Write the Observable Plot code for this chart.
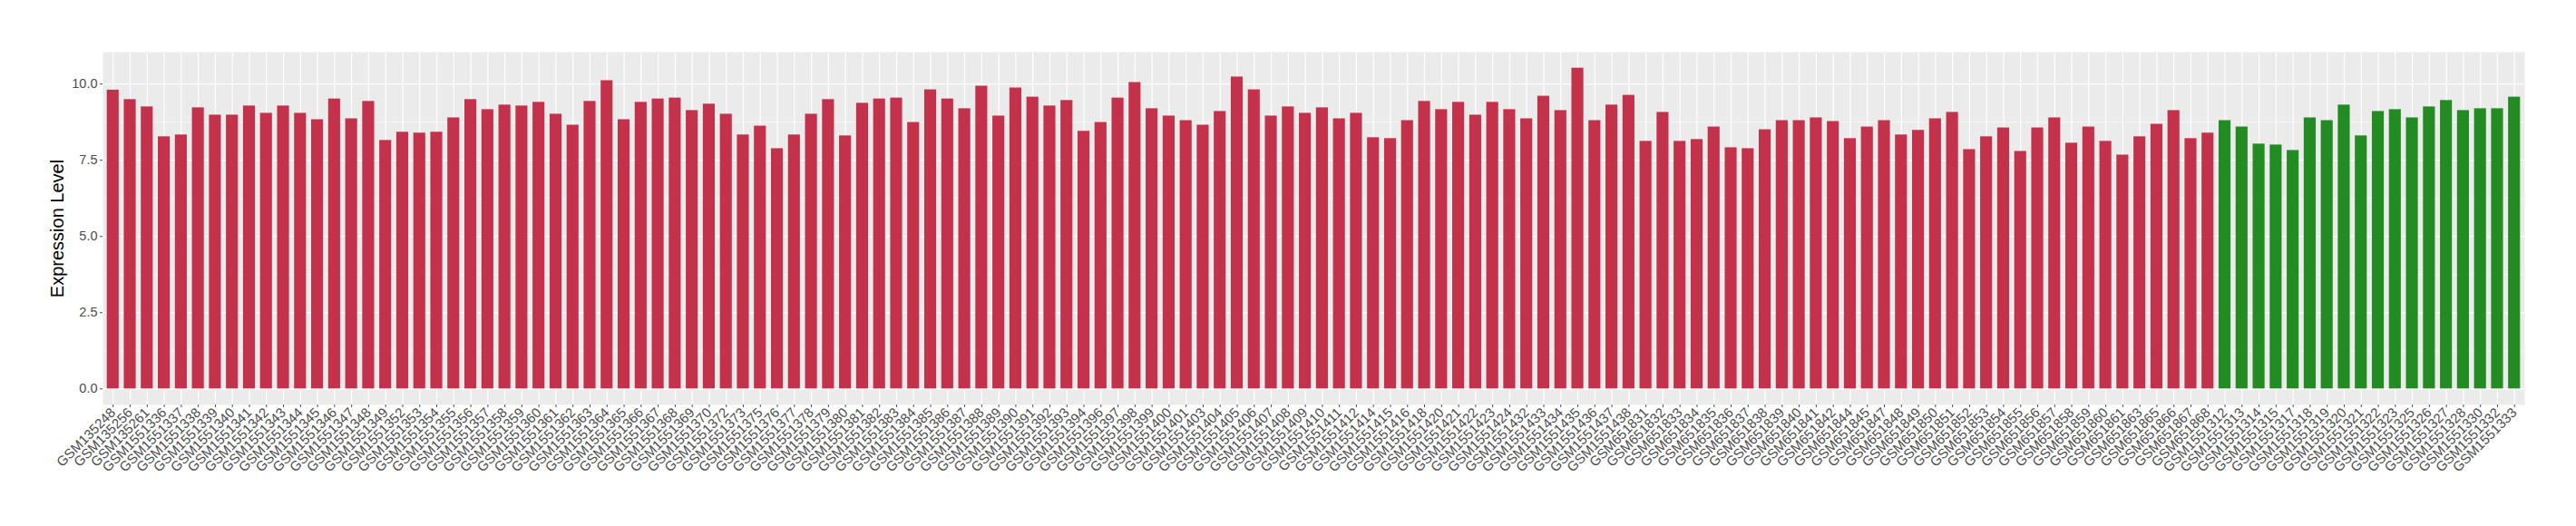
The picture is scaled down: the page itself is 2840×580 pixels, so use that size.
<!DOCTYPE html>
<html><head><meta charset="utf-8">
<script src="https://cdn.jsdelivr.net/npm/d3@7"></script>
<script src="https://cdn.jsdelivr.net/npm/@observablehq/plot@0.6"></script>
<style>body{margin:0;background:#fff;} #chart svg{display:block;}</style>
</head><body><div id="chart"></div>
<script>
const tumorSamples = ["GSM135248","GSM135256","GSM135261","GSM1551336","GSM1551337","GSM1551338","GSM1551339","GSM1551340","GSM1551341","GSM1551342","GSM1551343","GSM1551344","GSM1551345","GSM1551346","GSM1551347","GSM1551348","GSM1551349","GSM1551352","GSM1551353","GSM1551354","GSM1551355","GSM1551356","GSM1551357","GSM1551358","GSM1551359","GSM1551360","GSM1551361","GSM1551362","GSM1551363","GSM1551364","GSM1551365","GSM1551366","GSM1551367","GSM1551368","GSM1551369","GSM1551370","GSM1551372","GSM1551373","GSM1551375","GSM1551376","GSM1551377","GSM1551378","GSM1551379","GSM1551380","GSM1551381","GSM1551382","GSM1551383","GSM1551384","GSM1551385","GSM1551386","GSM1551387","GSM1551388","GSM1551389","GSM1551390","GSM1551391","GSM1551392","GSM1551393","GSM1551394","GSM1551396","GSM1551397","GSM1551398","GSM1551399","GSM1551400","GSM1551401","GSM1551403","GSM1551404","GSM1551405","GSM1551406","GSM1551407","GSM1551408","GSM1551409","GSM1551410","GSM1551411","GSM1551412","GSM1551414","GSM1551415","GSM1551416","GSM1551418","GSM1551420","GSM1551421","GSM1551422","GSM1551423","GSM1551424","GSM1551432","GSM1551433","GSM1551434","GSM1551435","GSM1551436","GSM1551437","GSM1551438","GSM651831","GSM651832","GSM651833","GSM651834","GSM651835","GSM651836","GSM651837","GSM651838","GSM651839","GSM651840","GSM651841","GSM651842","GSM651844","GSM651845","GSM651847","GSM651848","GSM651849","GSM651850","GSM651851","GSM651852","GSM651853","GSM651854","GSM651855","GSM651856","GSM651857","GSM651858","GSM651859","GSM651860","GSM651861","GSM651863","GSM651865","GSM651866","GSM651867","GSM651868"];
const tumorValues = [
9.80, 9.49, 9.25, 8.27, 8.33, 9.22, 8.98, 8.98, 9.28, 9.04,
9.28, 9.04, 8.83, 9.51, 8.86, 9.43, 8.15, 8.42, 8.39, 8.42,
8.89, 9.49, 9.16, 9.31, 9.28, 9.40, 9.01, 8.65, 9.43, 10.11,
8.83, 9.40, 9.51, 9.54, 9.13, 9.34, 9.01, 8.33, 8.62, 7.88,
8.33, 9.01, 9.49, 8.30, 9.37, 9.51, 9.54, 8.74, 9.81, 9.51,
9.19, 9.93, 8.95, 9.87, 9.57, 9.28, 9.46, 8.45, 8.74, 9.54,
10.05, 9.19, 8.95, 8.80, 8.65, 9.10, 10.23, 9.81, 8.95, 9.25,
9.04, 9.22, 8.86, 9.04, 8.24, 8.21, 8.80, 9.43, 9.16, 9.40,
8.98, 9.40, 9.16, 8.86, 9.60, 9.13, 10.52, 8.80, 9.31, 9.63,
8.12, 9.07, 8.12, 8.18, 8.59, 7.91, 7.88, 8.50, 8.80, 8.80,
8.89, 8.77, 8.21, 8.59, 8.80, 8.33, 8.48, 8.86, 9.07, 7.85,
8.27, 8.56, 7.79, 8.56, 8.89, 8.06, 8.59, 8.12, 7.67, 8.27,
8.68, 9.13, 8.21, 8.39];
const normalSamples = ["GSM1551312","GSM1551313","GSM1551314","GSM1551315","GSM1551317","GSM1551318","GSM1551319","GSM1551320","GSM1551321","GSM1551322","GSM1551323","GSM1551325","GSM1551326","GSM1551327","GSM1551328","GSM1551330","GSM1551332","GSM1551333"];
const normalValues = [8.80, 8.59, 8.03, 8.00, 7.82, 8.89, 8.80, 9.31, 8.30, 9.10, 9.16, 8.89, 9.25, 9.46, 9.13, 9.19, 9.19, 9.57];
const groups = ["Tumor", "Normal"];
const groupColors = ["#C3314A", "#228B22"];
const yTicks = [0, 2.5, 5, 7.5, 10];
const yMinorTicks = [1.25, 3.75, 6.25, 8.75];
const yTitle = "Expression Level";

const data = [
  ...tumorSamples.map((s, i) => ({sample: s, value: tumorValues[i], group: groups[0]})),
  ...normalSamples.map((s, i) => ({sample: s, value: normalValues[i], group: groups[1]}))
];
const sampleOrder = data.map(d => d.sample);
const ymax = d3.max(data, d => d.value);
const pad = ymax * 0.05;

const plot = Plot.plot({
  width: 2840,
  height: 580,
  marginLeft: 113,
  marginRight: 57,
  marginTop: 57,
  marginBottom: 134,
  style: {fontFamily: "'Liberation Sans', Arial, Helvetica, sans-serif", background: "#fff"},
  x: {type: "band", domain: sampleOrder, paddingInner: 0.3, paddingOuter: 0.25, label: null},
  y: {domain: [-pad, ymax + pad], label: null},
  color: {domain: groups, range: groupColors},
  marks: [
    Plot.frame({fill: "#EBEBEB", stroke: "none"}),
    Plot.gridY(yMinorTicks, {stroke: "#fff", strokeOpacity: 1, strokeWidth: 0.6}),
    Plot.gridY(yTicks, {stroke: "#fff", strokeOpacity: 1, strokeWidth: 1.2}),
    Plot.gridX(sampleOrder, {stroke: "#fff", strokeOpacity: 1, strokeWidth: 1.2}),
    Plot.barY(data, {x: "sample", y: "value", fill: "group"}),
    Plot.axisY(yTicks, {tickFormat: d3.format(".1f"), tickSize: 3, tickPadding: 3, fontSize: 14.5, color: "#4D4D4D",
      label: yTitle, labelAnchor: "center", labelArrow: "none", labelOffset: 58}),
    Plot.axisX({tickRotate: -45, tickSize: 3, tickPadding: 3, fontSize: 15, color: "#4D4D4D", label: null})
  ]
});
document.getElementById("chart").appendChild(plot);
plot.querySelectorAll("g[aria-label='y-axis label'] text").forEach(t => { t.setAttribute("font-size", "20"); t.style.fill = "#000"; });
</script>
</body></html>
